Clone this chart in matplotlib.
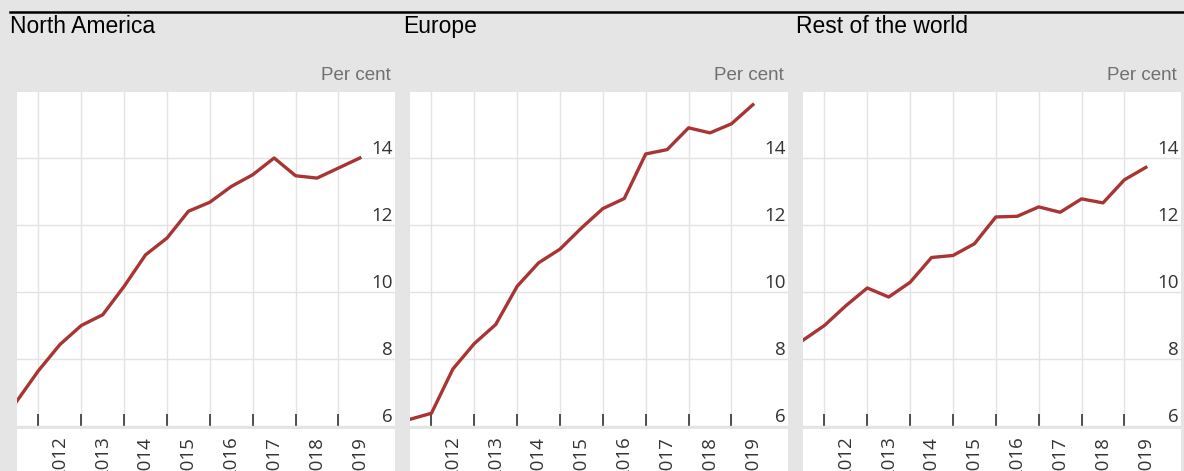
import numpy as np
import matplotlib.pyplot as plt
from matplotlib.lines import Line2D

# half-yearly observations, mid 2011 to mid 2019
periods = np.arange(2011.5, 2019.75, 0.5)
years = [2012, 2013, 2014, 2015, 2016, 2017, 2018, 2019]

titles = ["North America", "Europe", "Rest of the world"]
north_america = [6.75, 7.65, 8.43, 9.0, 9.32, 10.17, 11.11, 11.61, 12.41,
                 12.68, 13.15, 13.5, 14.0, 13.47, 13.4, 13.7, 14.0]
europe = [6.2, 6.38, 7.7, 8.46, 9.03, 10.17, 10.87, 11.28, 11.91,
          12.49, 12.79, 14.12, 14.25, 14.9, 14.75, 15.02, 15.59]
rest_of_world = [8.56, 9.0, 9.59, 10.12, 9.85, 10.29, 11.03, 11.09, 11.44,
                 12.24, 12.26, 12.54, 12.38, 12.78, 12.66, 13.35, 13.72]
series = [north_america, europe, rest_of_world]
yticks = [6, 8, 10, 12, 14]

W, H = 1184, 471
bg = "#e5e5e5"
fig = plt.figure(figsize=(W / 100, H / 100), dpi=100, facecolor=bg)

# black rule at the top
fig.add_artist(Line2D([10 / W, 1], [1 - 12 / H] * 2, color="black", lw=1.8))

lefts = [17, 410, 803]
pw = 378
top, bottom = 92, 427

for left, title, vals in zip(lefts, titles, series):
    # white strip behind the year labels
    strip = fig.add_axes([left / W, 0, pw / W, (H - 429) / H])
    strip.set_facecolor("white")
    strip.set_xticks([])
    strip.set_yticks([])
    for s in strip.spines.values():
        s.set_visible(False)
    strip.set_zorder(0)

    ax = fig.add_axes([left / W, (H - bottom) / H, pw / W, (bottom - top) / H])
    ax.set_zorder(1)
    ax.set_facecolor("white")
    for s in ax.spines.values():
        s.set_visible(False)

    ax.plot(periods, vals, color="#a83434", lw=2.4, zorder=3)

    ax.set_xlim(2011.5, 2020.32)
    ax.set_ylim(5.97, 15.97)

    ax.set_xticks(years)
    ax.set_xticklabels([])
    ax.set_xticks([y + 0.5 for y in years], minor=True)
    ax.set_xticklabels([str(y) for y in years], minor=True, rotation=90,
                       fontfamily="Open Sans", fontsize=13.5, color="#333333",
                       va="top")
    ax.tick_params(axis="x", which="major", direction="in", length=9.5,
                   width=1.2, color="#333333")
    ax.tick_params(axis="x", which="minor", length=0, pad=7)

    ax.set_yticks(yticks)
    ax.tick_params(axis="y", left=False, labelleft=False)
    ax.grid(True, which="major", color="#e3e3e3", lw=1)
    ax.set_axisbelow(True)

    for v in yticks:
        ax.text(0.995, v, str(v), transform=ax.get_yaxis_transform(),
                ha="right", va="bottom", fontfamily="Open Sans", fontsize=13.5,
                color="#333333")

    ax.text(0.989, 1 + 17 / (bottom - top), "Per cent", transform=ax.transAxes,
            ha="right", va="center", fontfamily="Liberation Sans", fontsize=13.5,
            color="#707070")
    ax.text(-7 / pw, 1 + (top - 26) / (bottom - top), title, transform=ax.transAxes,
            ha="left", va="center", fontfamily="Liberation Sans", fontsize=16.5,
            color="black")

fig.savefig("out.png", dpi=100, facecolor=bg)
